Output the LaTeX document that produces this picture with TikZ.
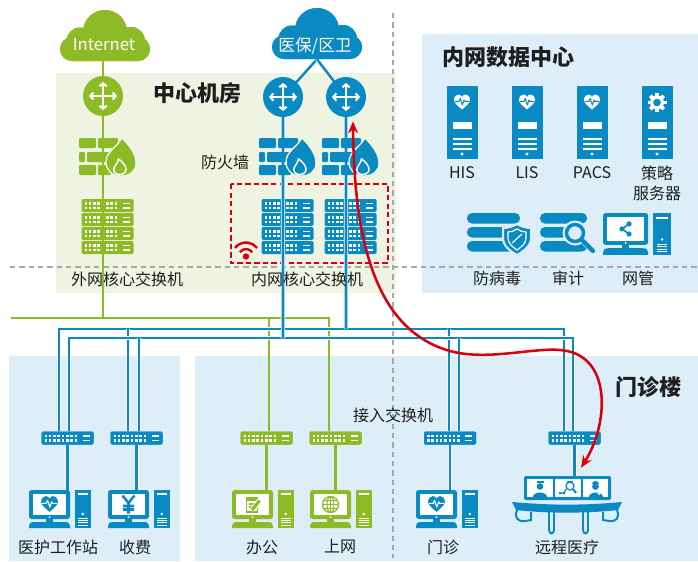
\documentclass[tikz,border=0pt]{standalone}
\usepackage{fontspec}
\usetikzlibrary{arrows.meta,calc}
\newfontfamily\cjk{Noto Sans CJK SC}

\definecolor{gr}{HTML}{8CBB25}
\definecolor{bl}{HTML}{0A8AC3}
\definecolor{bggr}{HTML}{EFF4E2}
\definecolor{bgbl}{HTML}{DDEEF8}
\definecolor{rd}{HTML}{D8000F}
\definecolor{dgray}{HTML}{A8A8A8}
\definecolor{ink}{HTML}{1E1E1E}

\tikzset{
  box/.style 2 args={inner sep=0, minimum width=#1*0.75pt, minimum height=#2*0.75pt},
  lab/.style={font=\cjk\fontsize{12}{15}\selectfont, text=ink, inner sep=0, align=center},
  ttl/.style={font=\cjk\bfseries\fontsize{16.5}{18}\selectfont, text=ink, inner sep=0},
  cloudtext/.style={font=\cjk\fontsize{12.5}{14}\selectfont, text=white, inner sep=0},
  gline/.style={draw=gr, line width=1.9pt},
  bline/.style={draw=bl, line width=1.9pt, preaction={draw=white, line width=3.2pt}},
  zone/.style={draw=dgray, line width=1.1pt, dash pattern=on 4pt off 3pt},
  groupframe/.style={draw=rd, line width=1.5pt, dash pattern=on 4pt off 2.4pt},
  redarrow/.style={draw=rd, line width=1.9pt, {Stealth[length=9pt,width=7.5pt]}-{Stealth[length=9pt,width=7.5pt]}},
  rarr/.style={white, line width=1.6pt, {Straight Barb[length=2.2pt,width=5.4pt]}-{Straight Barb[length=2.2pt,width=5.4pt]}},
  % cloud: centre at the origin, 90 x 51
  pics/cloud/.style={code={
    \fill[#1, rounded corners=9pt] (-45,2) rectangle (45,26);
    \fill[#1] (0,-3) circle[radius=22] (-25,6) circle[radius=13.5] (26,6) circle[radius=14];
    \node[box={90}{51}] (-n) at (0,0.5) {};
  }},
  % router: disc with four-way arrows
  pics/router/.style={code={
    \fill[#1] (0,0) circle[radius=20];
    \draw[rarr] (-14,0) -- (14,0);
    \draw[rarr] (0,-14) -- (0,14);
    \node[box={40}{40}, circle] (-n) at (0,0) {};
  }},
  % firewall: bricks and a flame; origin on the uplink line, vertical centre
  pics/firewall/.style={code={
    \fill[#1, rounded corners=0.8pt] (-24,-19) rectangle (-7,-9);
    \fill[#1, rounded corners=0.8pt] (-5,-19) rectangle (15,-9);
    \fill[#1, rounded corners=0.8pt] (-24,-5) rectangle (-18,5);
    \fill[#1, rounded corners=0.8pt] (-16,-5) rectangle (8,5);
    \fill[#1, rounded corners=0.8pt] (-24,8) rectangle (-7,18);
    \fill[#1, rounded corners=0.8pt] (-5,8) rectangle (8,18);
    \filldraw[fill=#1, draw=bggr, line width=1pt] (18,19) .. controls (9,19) and (3,13) .. (3,5) .. controls (3,-5) and (13,-9) .. (19,-19) .. controls (28,-10) and (33,-2) .. (33,6) .. controls (33,14) and (27,19) .. (18,19) -- cycle;
    \draw[white, line width=1.1pt] (16.5,17.5) .. controls (12,17.5) and (10,14) .. (11,11) .. controls (12,8) and (15,6) .. (15.5,2) .. controls (20,5) and (23,9) .. (23,12.5) .. controls (23,15.5) and (20,17.5) .. (16.5,17.5) -- cycle;
    \node[box={57}{38}] (-n) at (4.5,0) {};
  }},
  % one rack switch unit, top-left origin, 52 x 13
  pics/swunit/.style={code={
    \fill[#1, rounded corners=1pt] (0,0) rectangle (52,13);
    \foreach \k in {0,...,7} {
      \fill[white] ({3+\k*4.3},3.2) rectangle ++(2.5,2.4);
      \fill[white] ({3+\k*4.3},7.6) rectangle ++(2.5,2.4);
    }
    \fill[white] (41,3.6) rectangle (48,5.2);
    \fill[white] (41,8) rectangle (48,9.6);
  }},
  % core switch stack: origin on the uplink line, top edge
  pics/corestack/.style={code={
    \foreach \k in {0,...,3} \pic at (-21.5,{\k*14}) {swunit=#1};
    \node[box={52}{55}] (-n) at (4.5,27.5) {};
  }},
  % access switch: centred
  pics/accsw/.style={code={
    \pic at (-26,-6.5) {swunit=#1};
    \node[box={52}{13}] (-n) at (0,0) {};
  }},
  pics/heart/.style args={#1/#2}{code={
    \fill[#1] (0,7) .. controls (-4,3.5) and (-8,0.5) .. (-8,-2.5) .. controls (-8,-6) and (-5.5,-8) .. (-3.5,-8) .. controls (-1.8,-8) and (-0.6,-7) .. (0,-5.5) .. controls (0.6,-7) and (1.8,-8) .. (3.5,-8) .. controls (5.5,-8) and (8,-6) .. (8,-2.5) .. controls (8,0.5) and (4,3.5) .. (0,7) -- cycle;
    \draw[#2, line width=0.8pt, line join=round] (-7,-1) -- (-3.2,-1) -- (-1.8,-4) -- (0.3,2.5) -- (2,-2.5) -- (3.2,-1) -- (7,-1);
  }},
  pics/gear/.style={code={
    \foreach \a in {0,45,...,315} \fill[white, rotate=\a] (-1.9,-9.5) rectangle (1.9,-5);
    \fill[white] (0,0) circle[radius=7];
    \fill[bl] (0,0) circle[radius=3.8];
  }},
  % tower server, centred, 31 x 73
  pics/server/.style={code={
    \fill[bl] (-15.5,-36.5) rectangle (15.5,36.5);
    \pic at (0,-20) {#1};
    \fill[white] (-9.5,-1) rectangle (9.5,6.5);
    \foreach \yy in {15.5,20.5,25.5} \fill[white] (-9.5,\yy) rectangle (9.5,{\yy+1.6});
    \fill[white] (0,31.5) circle[radius=1.6];
    \node[box={31}{73}] (-n) at (0,0) {};
  }},
  % screen contents
  pics/scrheart/.style={code={\pic[scale=1.05] {heart=#1/white};}},
  pics/scryen/.style={code={
    \draw[#1, line width=1.9pt] (-6,-9) -- (0,-1.5) -- (6,-9) (0,-1.5) -- (0,9) (-5.5,1.5) -- (5.5,1.5) (-5.5,5) -- (5.5,5);
  }},
  pics/scrnote/.style={code={
    \draw[#1, line width=1.1pt] (-6,-6.5) rectangle (5,7.5);
    \fill[#1] (-6,-6.5) rectangle (5,-3.5);
    \draw[#1, line width=1pt] (-4,-0.5) -- (2,-0.5) (-4,2.5) -- (0,2.5);
    \draw[#1, line width=2.4pt, preaction={draw=white, line width=4pt}] (-0.5,5.5) -- (7,-4);
  }},
  pics/scrglobe/.style={code={
    \draw[#1, line width=1pt] (0,0) circle[radius=8];
    \draw[#1, line width=0.8pt] (0,0) ellipse[x radius=3.5, y radius=8];
    \draw[#1, line width=0.8pt] (-8,0) -- (8,0) (-7,-4) -- (7,-4) (-7,4) -- (7,4) (0,-8) -- (0,8);
  }},
  pics/scrshare/.style={code={
    \draw[#1, line width=1.2pt] (3.5,-5) -- (-3.5,0) -- (3.5,5);
    \fill[#1] (-3.5,0) circle[radius=2.6] (3.5,-5) circle[radius=2.6] (3.5,5) circle[radius=2.6];
  }},
  % desktop computer: top-left origin, 62 x 38
  pics/pc/.style args={#1/#2}{code={
    \fill[#1, rounded corners=2pt] (0,0) rectangle (41,29);
    \fill[white] (4,4) rectangle (37,25);
    \fill[white] (20.5,27.2) circle[radius=1];
    \fill[#1] (17,28) rectangle (24,33);
    \fill[#1] (0,38) -- (0,36) .. controls (0,33.5) and (1.5,32) .. (5,32) -- (36,32) .. controls (39.5,32) and (41,33.5) .. (41,36) -- (41,38) -- cycle;
    \fill[#1] (45.5,0) rectangle (62,38);
    \fill[white] (48.5,3.2) rectangle (59,5.4);
    \fill[white] (53.75,24) circle[radius=1.3];
    \foreach \yy in {28,30.2,32.4,34.6} \fill[white] (49,\yy) rectangle (58.5,{\yy+1});
    \pic at (20.5,14.5) {#2=#1};
    \node[box={62}{38}] (-n) at (31,19) {};
  }},
  % stacked storage with a shield, top-left origin
  pics/dbshield/.style={code={
    \foreach \yy in {0,14,28} \fill[bl, rounded corners=3.7pt] (0,\yy) rectangle (53,{\yy+10.5});
    \filldraw[fill=bl, draw=bgbl, line width=1.5pt] (50,11) .. controls (55,14) and (60,15) .. (64,15) -- (64,25) .. controls (64,33) and (57,38) .. (50,42) .. controls (43,38) and (36,33) .. (36,25) -- (36,15) .. controls (40,15) and (45,14) .. (50,11) -- cycle;
    \draw[white, line width=0.9pt] (50,16) .. controls (53,18) and (56,19) .. (59,19) -- (59,25) .. controls (59,31) and (54,34) .. (50,37) .. controls (46,34) and (41,31) .. (41,25) -- (41,19) .. controls (44,19) and (47,18) .. (50,16) -- cycle;
    \draw[white, line width=0.9pt] (45,30) -- (55,21);
    \node[box={64}{42}] (-n) at (32,21) {};
  }},
  % stacked storage with a magnifier, top-left origin
  pics/dbsearch/.style={code={
    \foreach \yy in {0,14,28} \fill[bl, rounded corners=3.7pt] (0,\yy) rectangle (47,{\yy+10.5});
    \draw[bgbl, line width=4pt, line cap=round] (40,25) -- (53,38);
    \fill[bgbl] (35,20) circle[radius=12.5];
    \draw[bl, line width=2.6pt] (35,20) circle[radius=8.5];
    \draw[bl, line width=3.2pt, line cap=round] (41.5,26.5) -- (53,38);
    \node[box={57}{42}] (-n) at (28.5,21) {};
  }},
  % telemedicine desk: origin at the top centre of the screen bar
  pics/telemed/.style={code={
    \fill[bl, rounded corners=1.5pt] (-43,0) rectangle (44,24);
    \fill[white] (-40,3) rectangle (-14,21);
    \fill[white] (-12,3) rectangle (14,21);
    \fill[white] (16,3) rectangle (41,21);
    % nurse
    \fill[bl] (-27,10.5) circle[radius=3.3];
    \fill[bl] (-30.5,5) rectangle (-23.5,7.2);
    \fill[bl] (-34,21) .. controls (-34,15) and (-20,15) .. (-20,21) -- cycle;
    % examination
    \draw[bl, line width=1pt] (3,10) circle[radius=4];
    \draw[bl, line width=1.6pt] (6,13) -- (9,17);
    \draw[bl, line width=0.9pt] (-7,17) -- (-3,17) -- (-1,13);
    \fill[bl] (-7,17) circle[radius=1.5] (-3,17) circle[radius=1.5];
    \fill[bl] (0,4.5) rectangle (6,6);
    % doctor
    \fill[bl] (28.5,10.5) circle[radius=3.4];
    \fill[bl] (25,7.5) .. controls (25,4) and (32,4) .. (32,7.5) -- cycle;
    \fill[bl] (21.5,21) .. controls (21.5,15) and (35.5,15) .. (35.5,21) -- cycle;
    \fill[white] (30.5,17) rectangle (33.5,18) (31.5,16) rectangle (32.5,19);
    % desk
    \fill[bl] (-55,26) .. controls (-15,29.5) and (15,29.5) .. (55,26) -- (51,34) .. controls (20,37.5) and (-20,37.5) .. (-51,34) -- cycle;
    \draw[bl, line width=1.5pt] (-50,34) .. controls (-53,42) and (-49,46) .. (-42,45) -- (-36,44) -- (-36,36);
    \draw[bl, line width=1.5pt] (50,34) .. controls (53,42) and (49,46) .. (42,45) -- (36,44) -- (36,36);
    \draw[bl, line width=1.4pt] (-18,36) -- (-18,54) .. controls (-18,58.5) and (-13,58.5) .. (-13,54) -- (-13,36);
    \draw[bl, line width=1.4pt] (16,36) -- (16,54) .. controls (16,58.5) and (21,58.5) .. (21,54) -- (21,36);
    \node[box={111}{59}] (-n) at (0,29.5) {};
  }},
}

\begin{document}
\begin{tikzpicture}[x=0.75pt, y=-0.75pt]
\useasboundingbox (0,0) rectangle (698,561);

% zones
\fill[bggr] (56,73) rectangle (396,293);
\fill[bgbl] (422,34) rectangle (698,293);
\fill[bgbl] (9,356) rectangle (180,561);
\fill[bgbl] (195,356) rectangle (698,561);
\draw[zone] (10,267) -- (698,267);
\draw[zone] (393,13) -- (393,558);

% intranet core group with wireless controller mark
\draw[groupframe] (231,184) rectangle (388,263);
\fill[rd] (246,256.5) circle[radius=3.2];
\draw[rd, line width=1.8pt] (246,256.5) ++(215:7.5) arc[start angle=215, end angle=325, radius=7.5];
\draw[rd, line width=1.8pt] (246,256.5) ++(218:14) arc[start angle=218, end angle=322, radius=14];

% core switches
\pic (c0) at (103,199) {corestack=gr};
\pic (c1) at (283,199) {corestack=bl};
\pic (c2) at (346,199) {corestack=bl};

% placement of the icons that carry connectors
\pic (cl1) at (105,35) {cloud=gr};
\pic (cl2) at (317,33) {cloud=bl};
\path (103,96) coordinate (r0pos) (283,97) coordinate (r1pos) (346,97) coordinate (r2pos);

% access switches
\pic (s1) at (67.5,438) {accsw=bl};
\pic (s2) at (136.5,438) {accsw=bl};
\pic (s3) at (266.5,438) {accsw=gr};
\pic (s4) at (335.5,438) {accsw=gr};
\pic (s5) at (450,438) {accsw=bl};
\pic (s6) at (574.5,438) {accsw=bl};

% terminals
\pic (pc1) at (29,490) {pc=bl/scrheart};
\pic (pc2) at (108,490) {pc=bl/scryen};
\pic (pc3) at (232,490) {pc=gr/scrnote};
\pic (pc4) at (310,490) {pc=gr/scrglobe};
\pic (pc5) at (416,490) {pc=bl/scrheart};
\pic (tele) at (567,476) {telemed};

% routers and firewalls (drawn later on top of the links)
\path (r0pos) node[box={40}{40}] (r0-n) {} (r1pos) node[box={40}{40}] (r1-n) {} (r2pos) node[box={40}{40}] (r2-n) {};

% bus levels and switch ports
\coordinate (gleft) at (11,318);
\coordinate (busG) at (0,318);
\coordinate (busA) at (0,329);
\coordinate (busB) at (0,338);
\coordinate (p1a) at ($(s1-n.north)+(-8.5,0)$);
\coordinate (p1b) at ($(s1-n.north)+(1.5,0)$);
\coordinate (p2a) at ($(s2-n.north)+(-8.5,0)$);
\coordinate (p2b) at ($(s2-n.north)+(2.5,0)$);
\coordinate (p3) at ($(s3-n.north)+(2.5,0)$);
\coordinate (p4) at ($(s4-n.north)+(-6.5,0)$);
\coordinate (p5a) at ($(s5-n.north)+(-1,0)$);
\coordinate (p5b) at ($(s5-n.north)+(9,0)$);
\coordinate (p6a) at ($(s6-n.north)+(-10.5,0)$);
\coordinate (p6b) at ($(s6-n.north)+(-1.5,0)$);

% extranet links
\draw[gline] (cl1-n.center -| r0-n) -- (r0-n |- busG);
\draw[gline] (gleft) -- (p4 |- busG) -- (p4);
\draw[gline] (p3 |- busG) -- (p3);
\draw[gline] (s3-n) -- (s3-n |- pc3-n.north);
\draw[gline] (s4-n) -- (s4-n |- pc4-n.north);

% intranet links
\draw[bline] (p1a) -- (p1a |- busA) -- (p6a |- busA) -- (p6a);
\draw[bline] (p2a |- busA) -- (p2a);
\draw[bline] (p5a |- busA) -- (p5a);
\draw[bline] (p1b) -- (p1b |- busB) -- (p6b |- busB) -- (p6b);
\draw[bline] (p2b |- busB) -- (p2b);
\draw[bline] (p5b |- busB) -- (p5b);
\draw[bline] (cl2-n.south) -- (r1-n.center) -- (r1-n |- busB);
\draw[bline] (cl2-n.south) -- (r2-n.center) -- (r2-n |- busA);
\draw[bline] (s1-n) -- (s1-n |- pc1-n.north);
\draw[bline] (s2-n) -- (s2-n |- pc2-n.north);
\draw[bline] (s5-n) -- (s5-n |- pc5-n.north);
\draw[bline] (s6-n) -- (s6-n |- tele-n.north);

% icons over the links
\pic at (105,35) {cloud=gr};
\pic at (317,33) {cloud=bl};
\pic at (r0pos) {router=gr};
\pic at (r1pos) {router=bl};
\pic at (r2pos) {router=bl};
\pic (f0) at (103,157) {firewall=gr};
\pic (f1) at (283,157) {firewall=bl};
\pic (f2) at (346,157) {firewall=bl};
\pic at (67.5,438) {accsw=bl};
\pic at (136.5,438) {accsw=bl};
\pic at (266.5,438) {accsw=gr};
\pic at (335.5,438) {accsw=gr};
\pic at (450,438) {accsw=bl};
\pic at (574.5,438) {accsw=bl};

% intranet data centre
\pic (his) at (462,122.5) {server={heart=white/bl}};
\pic (lis) at (527,122.5) {server={heart=white/bl}};
\pic (pacs) at (592,122.5) {server={heart=white/bl}};
\pic (pol) at (657,122.5) {server=gear};
\pic (av) at (467,213) {dbshield};
\pic (au) at (540,213) {dbsearch};
\pic[scale=1.1] (nm) at (603,213) {pc=bl/scrshare};

% texts
\node[cloudtext] (tinet) at (104,44) {Internet};
\node[cloudtext] (tmed) at (315,46) {医保/区卫};
\node[ttl] (troom) at (197,93) {中心机房};
\node[ttl] (tdc) at (508,57) {内网数据中心};
\node[ttl] (tclinic) at (648,387) {门诊楼};
\node[lab] (tfw) at (225,162) {防火墙};
\node[lab] (tcore0) at (127,279) {外网核心交换机};
\node[lab] (tcore1) at (307,279) {内网核心交换机};
\node[lab] (this) at (462,173) {HIS};
\node[lab] (tlis) at (527,173) {LIS};
\node[lab] (tpacs) at (592,173) {PACS};
\node[lab] (tpol) at (657,183) {策略\\服务器};
\node[lab] (tav) at (497,278) {防病毒};
\node[lab] (tau) at (568,278) {审计};
\node[lab] (tnm) at (638,278) {网管};
\node[lab] (tacc) at (393,415) {接入交换机};
\node[lab] (tpc1) at (58,547) {医护工作站};
\node[lab] (tpc2) at (135,547) {收费};
\node[lab] (tpc3) at (262,547) {办公};
\node[lab] (tpc4) at (340,547) {上网};
\node[lab] (tpc5) at (443,547) {门诊};
\node[lab] (ttele) at (567,547) {远程医疗};

% remote consultation path
\coordinate (rs) at ($(r2-n.south)+(7,4)$);
\coordinate (te) at ($(tele-n.north)+(14,-8)$);
\draw[redarrow] (rs) .. controls (354,240) and (375,330) .. (450,351) .. controls (490,362) and (540,345) .. (567,351) .. controls (612,360) and (608,425) .. (te);
\end{tikzpicture}
\end{document}
